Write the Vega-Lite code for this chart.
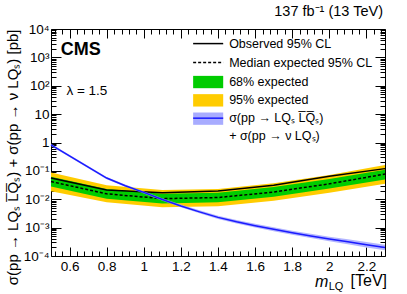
{
  "$schema": "https://vega.github.io/schema/vega-lite/v6.json",
  "width": 334,
  "height": 227,
  "autosize": "none",
  "padding": {"left": 51, "top": 29, "right": 22, "bottom": 38},
  "background": "white",
  "config": {
    "font": "Liberation Sans",
    "view": {"stroke": "black", "strokeWidth": 1},
    "axis": {"grid": false, "domain": false, "tickColor": "black", "labelColor": "black", "labelFont": "Liberation Sans", "labelFontSize": 13.5, "titleColor": "black"}
  },
  "title": {"text": "137 fb⁻¹ (13 TeV)", "anchor": "end", "fontSize": 14.5, "fontWeight": "normal", "font": "Liberation Sans", "color": "black", "offset": 3, "dx": -5},
  "datasets": {
    "limits": [
      {"m": 0.5, "obs": 0.056, "exp": 0.042, "lo68": 0.028, "hi68": 0.062, "lo95": 0.019, "hi95": 0.088},
      {"m": 0.8, "obs": 0.021, "exp": 0.0155, "lo68": 0.0105, "hi68": 0.023, "lo95": 0.0078, "hi95": 0.031},
      {"m": 1.1, "obs": 0.017, "exp": 0.0105, "lo68": 0.0071, "hi68": 0.0156, "lo95": 0.0052, "hi95": 0.021},
      {"m": 1.4, "obs": 0.0195, "exp": 0.0115, "lo68": 0.0078, "hi68": 0.017, "lo95": 0.0057, "hi95": 0.023},
      {"m": 1.7, "obs": 0.031, "exp": 0.018, "lo68": 0.0122, "hi68": 0.027, "lo95": 0.0088, "hi95": 0.037},
      {"m": 2.0, "obs": 0.065, "exp": 0.035, "lo68": 0.024, "hi68": 0.052, "lo95": 0.017, "hi95": 0.072},
      {"m": 2.3, "obs": 0.12, "exp": 0.077, "lo68": 0.05, "hi68": 0.11, "lo95": 0.035, "hi95": 0.16}
    ],
    "theory": [
      {"m": 0.5, "xs": 0.83, "lo": 0.76, "hi": 0.9},
      {"m": 0.8, "xs": 0.056, "lo": 0.051, "hi": 0.061},
      {"m": 0.9, "xs": 0.03, "lo": 0.0273, "hi": 0.033},
      {"m": 1.0, "xs": 0.0175, "lo": 0.0158, "hi": 0.0193},
      {"m": 1.1, "xs": 0.0098, "lo": 0.0088, "hi": 0.0109},
      {"m": 1.2, "xs": 0.0058, "lo": 0.0052, "hi": 0.0065},
      {"m": 1.3, "xs": 0.0036, "lo": 0.0032, "hi": 0.0041},
      {"m": 1.4, "xs": 0.0023, "lo": 0.00203, "hi": 0.00262},
      {"m": 1.5, "xs": 0.0016, "lo": 0.0014, "hi": 0.00184},
      {"m": 1.6, "xs": 0.00117, "lo": 0.00101, "hi": 0.00136},
      {"m": 1.7, "xs": 0.00088, "lo": 0.00075, "hi": 0.00103},
      {"m": 1.8, "xs": 0.00066, "lo": 0.00056, "hi": 0.00078},
      {"m": 1.9, "xs": 0.00051, "lo": 0.00043, "hi": 0.00061},
      {"m": 2.0, "xs": 0.0004, "lo": 0.00033, "hi": 0.00048},
      {"m": 2.1, "xs": 0.00032, "lo": 0.00026, "hi": 0.00039},
      {"m": 2.2, "xs": 0.00025, "lo": 0.0002, "hi": 0.00031},
      {"m": 2.3, "xs": 0.0002, "lo": 0.00016, "hi": 0.00025}
    ],
    "legendLines": [
      {"item": "obs", "x": 1.266, "y": 3060},
      {"item": "obs", "x": 1.428, "y": 3060},
      {"item": "exp", "x": 1.266, "y": 656},
      {"item": "exp", "x": 1.428, "y": 656},
      {"item": "th", "x": 1.266, "y": 7.2},
      {"item": "th", "x": 1.428, "y": 7.2}
    ],
    "legendRects": [
      {"item": "68", "x1": 1.266, "x2": 1.428, "y1": 82, "y2": 223},
      {"item": "95", "x1": 1.266, "x2": 1.428, "y1": 18.5, "y2": 50.6},
      {"item": "th", "x1": 1.266, "x2": 1.428, "y1": 4.2, "y2": 11.4}
    ],
    "legendText": [
      {"x": 1.46, "y": 3060, "t": "Observed 95% CL"},
      {"x": 1.46, "y": 656, "t": "Median expected 95% CL"},
      {"x": 1.46, "y": 141, "t": "68% expected"},
      {"x": 1.46, "y": 31.9, "t": "95% expected"},
      {"x": 1.46, "y": 7.2, "t": "σ(pp → LQₛ L̅Q̅ₛ)"},
      {"x": 1.46, "y": 1.63, "t": "+ σ(pp → ν LQₛ)"}
    ]
  },
  "resolve": {"axis": {"x": "independent", "y": "independent"}},
  "layer": [
    {
      "data": {"name": "limits"},
      "mark": {"type": "area", "color": "#ffcc00"},
      "encoding": {
        "x": {"field": "m", "type": "quantitative",
          "scale": {"domain": [0.5, 2.3], "nice": false, "zero": false},
          "axis": {"orient": "bottom", "title": null,
            "values": [0.52,0.56,0.6,0.64,0.68,0.72,0.76,0.8,0.84,0.88,0.92,0.96,1,1.04,1.08,1.12,1.16,1.2,1.24,1.28,1.32,1.36,1.4,1.44,1.48,1.52,1.56,1.6,1.64,1.68,1.72,1.76,1.8,1.84,1.88,1.92,1.96,2,2.04,2.08,2.12,2.16,2.2,2.24,2.28],
            "labelExpr": "abs(datum.value*5 - round(datum.value*5)) < 0.001 ? format(datum.value, '~g') : ''",
            "labelOverlap": false, "labelBound": false, "labelFlush": false,
            "tickSize": {"condition": {"test": "abs(datum.value*5 - round(datum.value*5)) < 0.001", "value": -9}, "value": -5},
            "labelPadding": 12}},
        "y": {"field": "lo95", "type": "quantitative",
          "scale": {"type": "log", "domain": [0.0001, 10000], "nice": false},
          "axis": {"orient": "left",
            "title": "σ(pp → LQₛ L̅Q̅ₛ) + σ(pp → ν LQₛ) [pb]",
            "titleFont": "Liberation Sans", "titleFontSize": 15, "titleFontWeight": "normal", "titlePadding": 3,
            "titleAnchor": "end",
            "values": [0.0001,0.0002,0.0003,0.0004,0.0005,0.0006,0.0007,0.0008,0.0009,0.001,0.002,0.003,0.004,0.005,0.006,0.007,0.008,0.009,0.01,0.02,0.03,0.04,0.05,0.06,0.07,0.08,0.09,0.1,0.2,0.3,0.4,0.5,0.6,0.7,0.8,0.9,1,2,3,4,5,6,7,8,9,10,20,30,40,50,60,70,80,90,100,200,300,400,500,600,700,800,900,1000,2000,3000,4000,5000,6000,7000,8000,9000,10000],
            "labelExpr": "datum.value==10000?'10⁴':datum.value==1000?'10³':datum.value==100?'10²':datum.value==10?'10':datum.value==1?'1':datum.value==0.1?'10⁻¹':datum.value==0.01?'10⁻²':datum.value==0.001?'10⁻³':datum.value==0.0001?'10⁻⁴':''",
            "labelOverlap": false, "labelBound": false, "labelFlush": false,
            "tickSize": {"condition": {"test": "indexof([0.0001,0.001,0.01,0.1,1,10,100,1000,10000], datum.value) >= 0", "value": -10}, "value": -5},
            "labelPadding": 12}},
        "y2": {"field": "hi95"}
      }
    },
    {
      "data": {"name": "limits"},
      "mark": {"type": "area", "color": "#00cc00"},
      "encoding": {
        "x": {"field": "m", "type": "quantitative", "axis": null},
        "y": {"field": "lo68", "type": "quantitative", "axis": null},
        "y2": {"field": "hi68"}
      }
    },
    {
      "data": {"name": "limits"},
      "mark": {"type": "line", "color": "black", "strokeWidth": 1.5, "strokeDash": [3, 2]},
      "encoding": {
        "x": {"field": "m", "type": "quantitative", "axis": null},
        "y": {"field": "exp", "type": "quantitative", "axis": null}
      }
    },
    {
      "data": {"name": "limits"},
      "mark": {"type": "line", "color": "black", "strokeWidth": 1.5},
      "encoding": {
        "x": {"field": "m", "type": "quantitative",
          "axis": {"orient": "top", "title": null, "labels": false,
            "values": [0.52,0.56,0.6,0.64,0.68,0.72,0.76,0.8,0.84,0.88,0.92,0.96,1,1.04,1.08,1.12,1.16,1.2,1.24,1.28,1.32,1.36,1.4,1.44,1.48,1.52,1.56,1.6,1.64,1.68,1.72,1.76,1.8,1.84,1.88,1.92,1.96,2,2.04,2.08,2.12,2.16,2.2,2.24,2.28],
            "tickSize": {"condition": {"test": "abs(datum.value*5 - round(datum.value*5)) < 0.001", "value": -9}, "value": -5}}},
        "y": {"field": "obs", "type": "quantitative",
          "axis": {"orient": "right", "title": null, "labels": false,
            "values": [0.0001,0.0002,0.0003,0.0004,0.0005,0.0006,0.0007,0.0008,0.0009,0.001,0.002,0.003,0.004,0.005,0.006,0.007,0.008,0.009,0.01,0.02,0.03,0.04,0.05,0.06,0.07,0.08,0.09,0.1,0.2,0.3,0.4,0.5,0.6,0.7,0.8,0.9,1,2,3,4,5,6,7,8,9,10,20,30,40,50,60,70,80,90,100,200,300,400,500,600,700,800,900,1000,2000,3000,4000,5000,6000,7000,8000,9000,10000],
            "tickSize": {"condition": {"test": "indexof([0.0001,0.001,0.01,0.1,1,10,100,1000,10000], datum.value) >= 0", "value": -10}, "value": -5}}}
      }
    },
    {
      "data": {"name": "theory"},
      "mark": {"type": "area", "color": "#9fa3ff", "opacity": 0.8},
      "encoding": {
        "x": {"field": "m", "type": "quantitative", "axis": null},
        "y": {"field": "lo", "type": "quantitative", "axis": null},
        "y2": {"field": "hi"}
      }
    },
    {
      "data": {"name": "theory"},
      "mark": {"type": "line", "color": "#1a1aff", "strokeWidth": 1.5},
      "encoding": {
        "x": {"field": "m", "type": "quantitative", "axis": null},
        "y": {"field": "xs", "type": "quantitative", "axis": null}
      }
    },
    {
      "data": {"name": "legendRects"},
      "mark": {"type": "rect"},
      "encoding": {
        "x": {"field": "x1", "type": "quantitative", "axis": null},
        "x2": {"field": "x2"},
        "y": {"field": "y1", "type": "quantitative", "axis": null},
        "y2": {"field": "y2"},
        "color": {"field": "item", "type": "nominal", "legend": null,
          "scale": {"domain": ["68", "95", "th"], "range": ["#00cc00", "#ffcc00", "#a8acff"]}}
      }
    },
    {
      "data": {"name": "legendLines"},
      "transform": [{"filter": "datum.item == 'obs'"}],
      "mark": {"type": "line", "color": "black", "strokeWidth": 1.5},
      "encoding": {
        "x": {"field": "x", "type": "quantitative", "axis": null},
        "y": {"field": "y", "type": "quantitative", "axis": null}
      }
    },
    {
      "data": {"name": "legendLines"},
      "transform": [{"filter": "datum.item == 'exp'"}],
      "mark": {"type": "line", "color": "black", "strokeWidth": 1.5, "strokeDash": [3, 2]},
      "encoding": {
        "x": {"field": "x", "type": "quantitative", "axis": null},
        "y": {"field": "y", "type": "quantitative", "axis": null}
      }
    },
    {
      "data": {"name": "legendLines"},
      "transform": [{"filter": "datum.item == 'th'"}],
      "mark": {"type": "line", "color": "#1a1aff", "strokeWidth": 1.5},
      "encoding": {
        "x": {"field": "x", "type": "quantitative", "axis": null},
        "y": {"field": "y", "type": "quantitative", "axis": null}
      }
    },
    {
      "data": {"name": "legendText"},
      "mark": {"type": "text", "align": "left", "baseline": "middle", "fontSize": 12.5, "font": "Liberation Sans", "color": "black"},
      "encoding": {
        "x": {"field": "x", "type": "quantitative", "axis": null},
        "y": {"field": "y", "type": "quantitative", "axis": null},
        "text": {"field": "t"}
      }
    },
    {
      "data": {"values": [{"x": 0.552, "y": 1837, "t": "CMS"}]},
      "mark": {"type": "text", "align": "left", "baseline": "middle", "fontSize": 18, "fontWeight": "bold", "font": "Liberation Sans", "color": "black"},
      "encoding": {
        "x": {"field": "x", "type": "quantitative", "axis": null},
        "y": {"field": "y", "type": "quantitative", "axis": null},
        "text": {"field": "t"}
      }
    },
    {
      "data": {"values": [{"x": 0.583, "y": 67.8, "t": "λ = 1.5"}]},
      "mark": {"type": "text", "align": "left", "baseline": "middle", "fontSize": 13.5, "font": "Liberation Sans", "color": "black"},
      "encoding": {
        "x": {"field": "x", "type": "quantitative", "axis": null},
        "y": {"field": "y", "type": "quantitative", "axis": null},
        "text": {"field": "t"}
      }
    },
    {
      "data": {"values": [{"x": 1.995, "y": 0.0001, "t": "m"}]},
      "mark": {"type": "text", "align": "right", "baseline": "middle", "dy": 26, "fontSize": 16, "fontStyle": "italic", "font": "Liberation Sans", "color": "black"},
      "encoding": {
        "x": {"field": "x", "type": "quantitative", "axis": null},
        "y": {"field": "y", "type": "quantitative", "axis": null},
        "text": {"field": "t"}
      }
    },
    {
      "data": {"values": [{"x": 2.076, "y": 0.0001, "t": "LQ"}]},
      "mark": {"type": "text", "align": "right", "baseline": "middle", "dy": 31, "fontSize": 11, "font": "Liberation Sans", "color": "black"},
      "encoding": {
        "x": {"field": "x", "type": "quantitative", "axis": null},
        "y": {"field": "y", "type": "quantitative", "axis": null},
        "text": {"field": "t"}
      }
    },
    {
      "data": {"values": [{"x": 2.311, "y": 0.0001, "t": "[TeV]"}]},
      "mark": {"type": "text", "align": "right", "baseline": "middle", "dy": 25, "fontSize": 16, "font": "Liberation Sans", "color": "black"},
      "encoding": {
        "x": {"field": "x", "type": "quantitative", "axis": null},
        "y": {"field": "y", "type": "quantitative", "axis": null},
        "text": {"field": "t"}
      }
    }
  ]
}
